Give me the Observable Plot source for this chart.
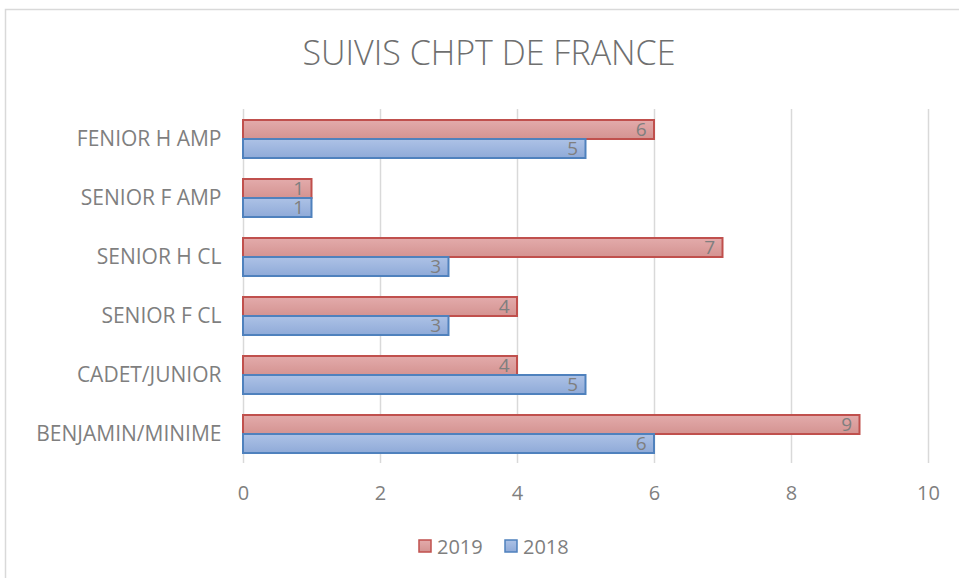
<!DOCTYPE html>
<html><head><meta charset="utf-8">
<script src="https://cdn.jsdelivr.net/npm/d3@7"></script>
<script src="https://cdn.jsdelivr.net/npm/@observablehq/plot@0.6"></script>
<style>body{margin:0;background:#fff}svg{font-family:"Open Sans",sans-serif}</style>
</head><body><div id="chart"></div>
<script>
const categories = ["FENIOR H AMP","SENIOR F AMP","SENIOR H CL","SENIOR F CL","CADET/JUNIOR","BENJAMIN/MINIME"];
const series = ["2019","2018"];
const values2019 = [6,1,7,4,4,9];
const values2018 = [5,1,3,3,5,6];
const xTicks = [0,2,4,6,8,10];
const title = "SUIVIS CHPT DE FRANCE";

const data = [];
categories.forEach((c,i)=>{
  data.push({cat:c, year:"2019", v:values2019[i]});
  data.push({cat:c, year:"2018", v:values2018[i]});
});

const W=959,H=578;
const chart = Plot.plot({
  width:W, height:H,
  marginTop:108, marginBottom:115, marginLeft:243, marginRight:31,
  style:{fontSize:"20px", color:"#7f7f7f", fontFamily:"'Open Sans',sans-serif"},
  x:{domain:[0,10], ticks:xTicks, tickSize:0, tickPadding:22, label:null, axis:"bottom"},
  fy:{domain:categories, padding:0, label:null, axis:null},
  y:{domain:series, axis:null, paddingInner:0, paddingOuter:0.5},
  marks:[
    Plot.axisFy({anchor:"left", tickSize:0, tickPadding:22, label:null, fontSize:21}),
    Plot.gridX(xTicks,{stroke:"#d9d9d9", strokeOpacity:1, strokeWidth:1.5}),
    Plot.barX(data.filter(d=>d.year==="2019"),{x:"v", y:"year", fy:"cat", fill:"#da9694", stroke:"#c0504d", strokeWidth:2, className:"b2019"}),
    Plot.barX(data.filter(d=>d.year==="2018"),{x:"v", y:"year", fy:"cat", fill:"#9db3dd", stroke:"#4f81bd", strokeWidth:2, className:"b2018"}),
    Plot.text(data,{x:"v", y:"year", fy:"cat", text:d=>String(d.v), textAnchor:"end", dx:-8, fill:"#7f7f7f", fontSize:19})
  ]
});
document.getElementById("chart").appendChild(chart);
const svg = d3.select(chart);
const defs = svg.insert("defs",":first-child");
function grad(id,c1,c2){
  const g = defs.append("linearGradient").attr("id",id).attr("x1",0).attr("y1",0).attr("x2",0).attr("y2",1);
  g.append("stop").attr("offset","0%").attr("stop-color",c1);
  g.append("stop").attr("offset","100%").attr("stop-color",c2);
}
grad("g2019","#e3abab","#d49391");
grad("g2018","#adc2e6","#8faad8");
svg.selectAll(".b2019 rect").attr("fill","url(#g2019)");
svg.selectAll(".b2018 rect").attr("fill","url(#g2018)");
// border
svg.insert("rect",":first-child").attr("x",5.5).attr("y",9.5).attr("width",970).attr("height",590)
  .attr("fill","none").attr("stroke","#d9d9d9").attr("stroke-width",1.5);
// title
svg.append("text").attr("x",489).attr("y",65).attr("text-anchor","middle")
  .attr("font-size",34).attr("font-weight",300).attr("fill","#6f6f6f").text(title);
// legend
const leg = [{k:"2019",f:"url(#g2019)",s:"#c0504d",x:419},{k:"2018",f:"url(#g2018)",s:"#4f81bd",x:505}];
leg.forEach(l=>{
  svg.append("rect").attr("x",l.x).attr("y",540).attr("width",12).attr("height",12)
    .attr("fill",l.f).attr("stroke",l.s).attr("stroke-width",1.5);
  svg.append("text").attr("x",l.x+18).attr("y",554).attr("text-anchor","start")
    .attr("font-size",20).attr("fill","#7f7f7f").text(l.k);
});
</script></body></html>
